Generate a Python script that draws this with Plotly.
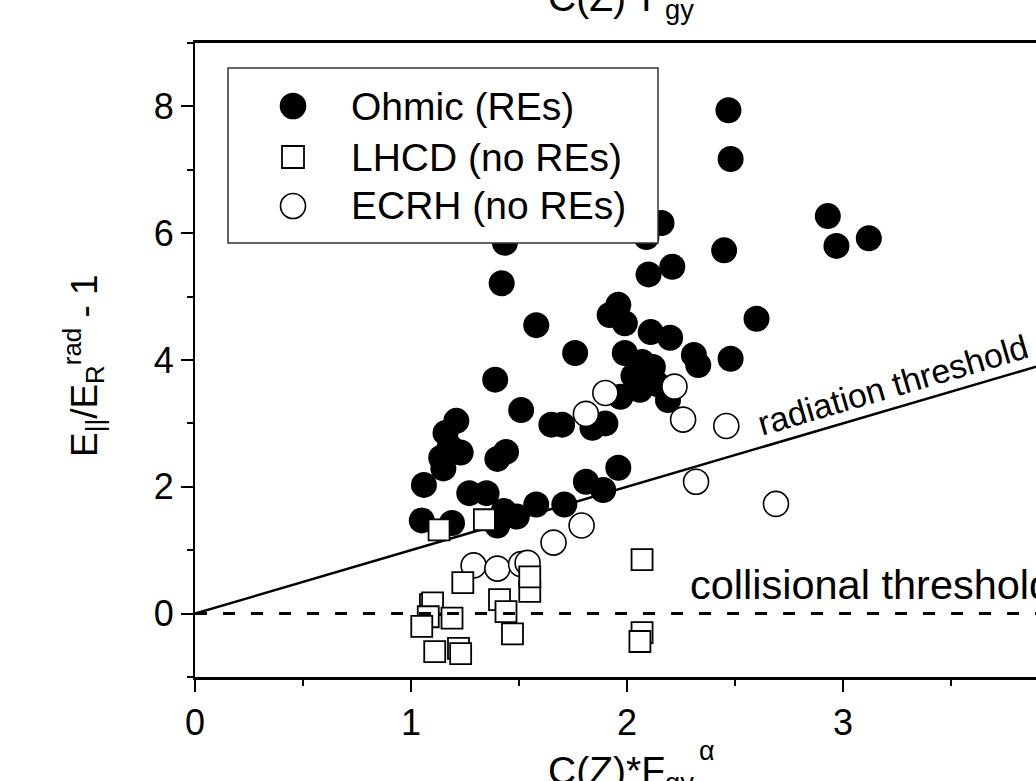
import numpy as np
import plotly.graph_objects as go

# ---- data -----------------------------------------------------------------
ohmic_x = [2.47, 2.48, 2.93, 2.97, 3.12, 2.45, 2.16, 2.09, 2.10, 2.21, 1.435, 1.42,
           1.58, 1.76, 1.39, 1.51, 1.92, 1.96, 1.99, 2.11, 2.20, 1.99, 2.60, 2.48,
           2.33, 2.31, 2.12, 2.07, 2.06, 2.19, 1.97, 1.90, 1.84, 1.65, 1.70, 1.96,
           1.81, 1.89, 1.21, 1.16, 1.18, 1.23, 1.14, 1.15, 1.44, 1.40, 1.06, 1.27,
           1.35, 1.43, 1.49, 1.40, 1.58, 1.71, 1.05, 1.19, 2.03, 2.14]
ohmic_y = [7.94, 7.17, 6.27, 5.80, 5.92, 5.73, 6.16, 5.94, 5.35, 5.47, 5.85, 5.21,
           4.55, 4.11, 3.69, 3.21, 4.71, 4.87, 4.58, 4.44, 4.35, 4.11, 4.65, 4.02,
           3.92, 4.08, 3.89, 3.97, 3.53, 3.37, 3.42, 3.00, 2.93, 2.98, 2.98, 2.30,
           2.08, 1.95, 3.04, 2.85, 2.63, 2.54, 2.46, 2.29, 2.55, 2.44, 2.03, 1.90,
           1.90, 1.62, 1.53, 1.39, 1.72, 1.72, 1.47, 1.43, 3.75, 3.62]

lhcd_x = [1.13, 1.34, 1.24, 1.41, 1.55, 1.55, 2.07, 1.09, 1.10, 1.08, 1.05, 1.19,
          1.44, 1.47, 1.11, 1.22, 1.23, 2.07, 2.06]
lhcd_y = [1.32, 1.48, 0.49, 0.22, 0.35, 0.58, 0.85, 0.14, 0.17, -0.05, -0.20, -0.07,
          0.03, -0.32, -0.60, -0.55, -0.63, -0.30, -0.44]

ecrh_x = [1.29, 1.40, 1.51, 1.54, 1.66, 1.79, 2.22, 2.26, 2.46, 2.32, 1.90, 1.81, 2.69]
ecrh_y = [0.76, 0.71, 0.78, 0.80, 1.12, 1.39, 3.58, 3.06, 2.96, 2.08, 3.48, 3.15, 1.73]

# threshold lines
rad_x = [0, 4]
rad_y = [0, 4]
coll_x = [0, 4]
coll_y = [0, 0]

series_names = ["Ohmic (REs)", "LHCD (no REs)", "ECRH (no REs)"]
x_ticks = [0, 1, 2, 3]
y_ticks = [0, 2, 4, 6, 8]
x_range = [0, 3.894]
y_range = [-1, 9]

# ---- geometry ---------------------------------------------------------------
W, H = 1036, 781
ML, MR, MT, MB = 195, 0, 43, 104
PW, PH = W - ML - MR, H - MT - MB
FONT = "Liberation Sans, Arial, sans-serif"


def fx(px):
    return (px - ML) / PW


def fy(py):
    return (MT + PH - py) / PH


fig = go.Figure()

fig.add_trace(go.Scatter(x=rad_x, y=rad_y, mode="lines",
                         line=dict(color="black", width=2.5),
                         showlegend=False, hoverinfo="skip"))
fig.add_trace(go.Scatter(x=ohmic_x, y=ohmic_y, mode="markers", name=series_names[0],
                         marker=dict(symbol="circle", size=26, color="black",
                                     line=dict(width=0)),
                         showlegend=False))
fig.add_trace(go.Scatter(x=ecrh_x, y=ecrh_y, mode="markers", name=series_names[2],
                         marker=dict(symbol="circle", size=25, color="white",
                                     line=dict(color="black", width=1.6)),
                         showlegend=False))
fig.add_trace(go.Scatter(x=lhcd_x, y=lhcd_y, mode="markers", name=series_names[1],
                         marker=dict(symbol="square", size=21, color="white",
                                     line=dict(color="black", width=1.8)),
                         showlegend=False))
fig.add_trace(go.Scatter(x=coll_x, y=coll_y, mode="lines",
                         line=dict(color="black", width=3, dash="12px,16px"),
                         showlegend=False, hoverinfo="skip"))

axis_common = dict(showline=True, linecolor="black", showgrid=False, zeroline=False,
                   ticks="outside", ticklen=12, tickwidth=2, tickcolor="black",
                   tickfont=dict(family=FONT, size=36, color="black"))

fig.update_xaxes(range=x_range, tickvals=x_ticks, linewidth=2.5, mirror=True,
                 minor=dict(ticks="outside", ticklen=6, tickwidth=2, tickcolor="black",
                            dtick=0.5, tick0=0, showgrid=False),
                 **axis_common)
fig.update_yaxes(range=y_range, tickvals=y_ticks, linewidth=2, mirror=False,
                 minor=dict(ticks="outside", ticklen=6, tickwidth=2, tickcolor="black",
                            dtick=1, tick0=-1, showgrid=False),
                 **axis_common)

# slope of the radiation threshold on screen, for the rotated label
px_per_x = PW / (x_range[1] - x_range[0])
px_per_y = PH / (y_range[1] - y_range[0])
rad_angle = np.degrees(np.arctan(px_per_y / px_per_x))

annotations = [
    dict(text="E<sub>||</sub>/E<sub>R</sub><sup>rad</sup> - 1", textangle=-90,
         xref="paper", yref="paper", x=fx(84), y=fy(366), xanchor="center",
         yanchor="middle", font=dict(size=37)),
    # bottom axis title; its exponent is set separately just right of the subscript
    dict(text="C(Z)*F<sub>gy</sub>", xref="paper", yref="paper",
         x=fx(546), y=fy(747), xanchor="left", yanchor="top", font=dict(size=39)),
    dict(text="α", xref="paper", yref="paper",
         x=fx(697), y=fy(751), xanchor="left", yanchor="middle", font=dict(size=27)),
    # title of the panel above
    dict(text="C(Z)*F<sub>gy</sub>", xref="paper", yref="paper",
         x=fx(546), y=fy(-26), xanchor="left", yanchor="top", font=dict(size=39)),
    dict(text="radiation threshold", xref="x", yref="y", x=3.23, y=3.61,
         textangle=-rad_angle, xanchor="center", yanchor="middle", font=dict(size=34)),
    dict(text="collisional threshold", xref="x", yref="y", x=2.282, y=0.05,
         xanchor="left", yanchor="bottom", font=dict(size=41.5)),
]
legend_rows = [106, 157, 206]
for name, row in zip(series_names, legend_rows):
    annotations.append(dict(text=name, xref="paper", yref="paper", x=fx(349), y=fy(row),
                            xanchor="left", yanchor="middle", font=dict(size=39)))
for a in annotations:
    a["showarrow"] = False
    a.setdefault("font", {})
    a["font"].update(family=FONT, color="black")

# legend frame and symbols
shapes = [dict(type="rect", xref="paper", yref="paper", x0=fx(228), x1=fx(658),
               y0=fy(243), y1=fy(68), fillcolor="white",
               line=dict(color="#333333", width=1.5), layer="above")]


def symbol_shape(kind, row, half, fill, lw):
    return dict(type=kind, xref="paper", yref="paper", xsizemode="pixel",
                ysizemode="pixel", xanchor=fx(293), yanchor=fy(row),
                x0=-half, x1=half, y0=-half, y1=half, fillcolor=fill,
                line=dict(color="black", width=lw), layer="above")


shapes.append(symbol_shape("circle", legend_rows[0], 13.3, "black", 0))
shapes.append(symbol_shape("rect", legend_rows[1], 11, "white", 1.8))
shapes.append(symbol_shape("circle", legend_rows[2], 12.5, "white", 1.6))

fig.update_layout(width=W, height=H, margin=dict(l=ML, r=MR, t=MT, b=MB, pad=0),
                  paper_bgcolor="white", plot_bgcolor="white",
                  font=dict(family=FONT, color="black"),
                  annotations=annotations, shapes=shapes, showlegend=False)

fig.write_html("out.html")
